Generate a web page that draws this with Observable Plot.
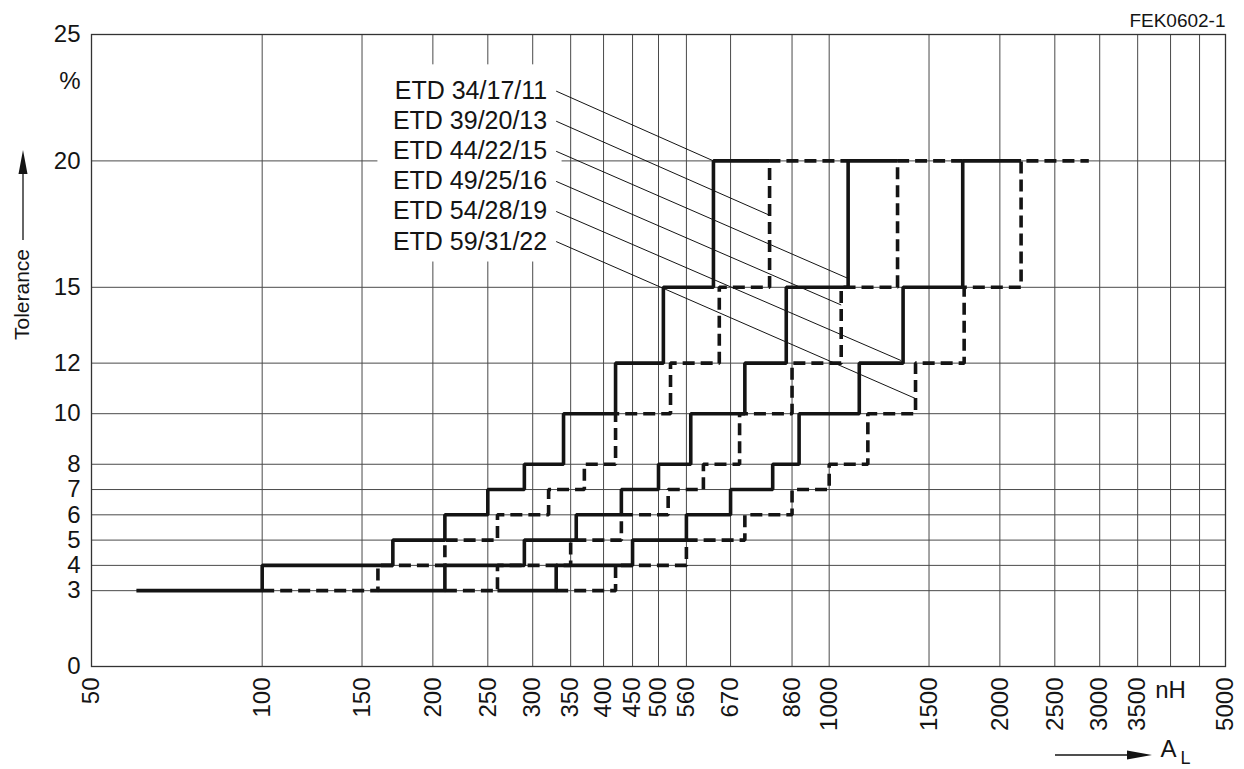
<!DOCTYPE html>
<html><head><meta charset="utf-8">
<script src="https://cdn.jsdelivr.net/npm/d3@7"></script>
<script src="https://cdn.jsdelivr.net/npm/@observablehq/plot@0.6"></script>
<style>
body{margin:0;background:#fff;}
#chart svg{display:block;}
</style></head><body><div id="chart"></div>
<script>
// ---------- data ----------
const xTicks = [50,100,150,200,250,300,350,400,450,500,560,670,860,1000,1500,2000,2500,3000,3500,4000,4500,5000];
const xUnlabeled = [4000, 4500];           // 4000 carries the unit "nH", 4500 has no label
const yTicks = [0,3,4,5,6,7,8,10,12,15,20,25];
const coreTypes = ["ETD 34/17/11","ETD 39/20/13","ETD 44/22/15","ETD 49/25/16","ETD 54/28/19","ETD 59/31/22"];
// tolerance level (%) reached at each A_L breakpoint (last point = end of curve)
const tolLevels = [3,4,5,6,7,8,10,12,15,20,20];
// A_L (nH) breakpoints per core type
const etd34 = [60,100,170,210,250,290,340,420,510,625,785];
const etd39 = [100,160,210,260,320,370,420,525,640,785,1080];
const etd44 = [160,210,290,358,430,500,570,710,840,1080,1320];
const etd49 = [210,260,350,430,520,600,695,860,1050,1320,1720];
const etd54 = [260,330,450,560,670,795,885,1130,1350,1720,2180];
const etd59 = [330,420,560,710,860,1000,1170,1420,1730,2180,2870];
const lineDashed = [false,true,false,true,false,true];
// points on each curve that the label leader lines point to
const leaderAL  = [625,785,1080,1050,1340,1420];
const leaderTol = [20,17.85,15.35,14.3,12.1,10.6];

// ---------- layout (annotation placement, not data) ----------
const labelAL = 330;
const labelTol = [22.76,21.57,20.38,19.19,18.0,16.81];
const labelBox = {x1:160, x2:338, y1:16, y2:23.8};

const series = [etd34, etd39, etd44, etd49, etd54, etd59];
const stepData = series.flatMap((arr, i) => arr.map((a, j) => ({core: coreTypes[i], al: a, tol: tolLevels[j], dashed: lineDashed[i]})));
const leaders = coreTypes.map((name, i) => ({name, x1: labelAL, y1: labelTol[i], x2: leaderAL[i], y2: leaderTol[i]}));
const xLabelTicks = xTicks.filter(d => !xUnlabeled.includes(d));

const FONT = "'Liberation Sans', Arial, Helvetica, sans-serif";
const ink = "#141414";
const gridColor = "#4a4a4a";

const plot = Plot.plot({
  width: 1244, height: 769,
  marginLeft: 91, marginRight: 19, marginTop: 34, marginBottom: 103,
  style: {fontFamily: FONT, fontSize: "24px", background: "white", color: ink},
  x: {type: "log", domain: [50, 5000], axis: null},
  y: {type: "linear", domain: [0, 25]},
  marks: [
    Plot.ruleX(xTicks, {stroke: gridColor, strokeWidth: 1}),
    Plot.ruleY(yTicks, {stroke: gridColor, strokeWidth: 1}),
    Plot.rect([labelBox], {x1: "x1", x2: "x2", y1: "y1", y2: "y2", fill: "white"}),
    Plot.frame({stroke: "#333", strokeWidth: 1.3}),
    Plot.line(stepData.filter(d => d.dashed), {x: "al", y: "tol", z: "core", curve: "step-after",
      stroke: ink, strokeWidth: 3.6, strokeDasharray: "12,6", strokeLinejoin: "miter", strokeLinecap: "butt"}),
    Plot.line(stepData.filter(d => !d.dashed), {x: "al", y: "tol", z: "core", curve: "step-after",
      stroke: ink, strokeWidth: 3.6, strokeLinejoin: "miter", strokeLinecap: "butt"}),
    Plot.link(leaders, {x1: "x1", y1: "y1", x2: "x2", y2: "y2", stroke: ink, strokeWidth: 1}),
    Plot.text(leaders, {x: "x1", y: "y1", text: "name", textAnchor: "end", dx: -9, fontSize: 25, fill: ink}),
    // x tick labels (rotated)
    Plot.text(xLabelTicks, {x: d => d, text: d => String(d), frameAnchor: "bottom", rotate: -90,
      textAnchor: "end", lineAnchor: "middle", dy: 11, fontSize: 24, fill: ink}),
    Plot.axisY({ticks: yTicks, tickFormat: d => String(d), tickSize: 0, tickPadding: 11, label: null, fontSize: 24, fill: ink}),
    Plot.text([{al: 4000, t: "nH"}], {x: "al", text: "t", frameAnchor: "bottom", lineAnchor: "middle", dy: 24, fontSize: 24, fill: ink}),
    Plot.text(["%"], {frameAnchor: "top-left", lineAnchor: "middle", dx: -11, dy: 47, textAnchor: "end", fontSize: 24, fill: ink}),
    Plot.text(["Tolerance"], {frameAnchor: "left", rotate: -90, textAnchor: "middle", lineAnchor: "middle", dx: -69, dy: -56, fontSize: 21, fill: ink}),
    Plot.text(["FEK0602-1"], {frameAnchor: "top-right", textAnchor: "end", lineAnchor: "middle", dy: -14, fontSize: 19, fill: ink}),
    Plot.text(["A"], {frameAnchor: "bottom-right", textAnchor: "start", lineAnchor: "middle", dx: -65, dy: 83, fontSize: 24, fill: ink}),
    Plot.text(["L"], {frameAnchor: "bottom-right", textAnchor: "start", lineAnchor: "middle", dx: -45, dy: 92, fontSize: 18, fill: ink})
  ]
});
document.getElementById("chart").appendChild(plot);

// axis-label arrows (decorations)
const svg = d3.select(plot);
const g = svg.append("g").attr("fill", ink).attr("stroke", ink);
// vertical arrow next to "Tolerance"
g.append("line").attr("x1", 23).attr("x2", 23).attr("y1", 240).attr("y2", 170).attr("stroke-width", 1.3);
g.append("path").attr("d", "M23,150 L18.5,174 L27.5,174 Z").attr("stroke", "none");
// horizontal arrow before A_L
g.append("line").attr("x1", 1055).attr("x2", 1130).attr("y1", 755).attr("y2", 755).attr("stroke-width", 1.3);
g.append("path").attr("d", "M1152,755 L1127,750.5 L1127,759.5 Z").attr("stroke", "none");
</script>
</body></html>
